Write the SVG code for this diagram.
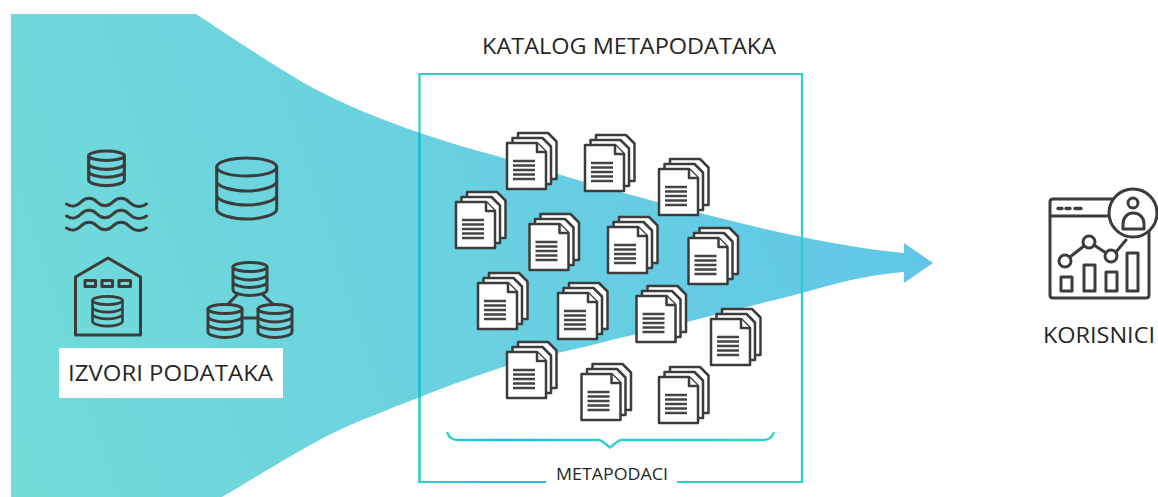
<svg xmlns="http://www.w3.org/2000/svg" xmlns:xlink="http://www.w3.org/1999/xlink" width="1158" height="497" viewBox="0 0 1158 497">
<style>
.i{fill:none;stroke:#3c3c3c;stroke-width:3;stroke-linejoin:round;stroke-linecap:round}
.p{fill:#fff;stroke:#3c3c3c;stroke-width:2.500;stroke-linejoin:round}
.l{stroke:#444;stroke-width:2.300;fill:none}
.t{font-family:"Open Sans","Noto Sans",sans-serif;font-weight:400;fill:#262626}
</style>
<defs>
<linearGradient id="fun" gradientUnits="userSpaceOnUse" x1="11" y1="497" x2="933" y2="200">
<stop offset="0" stop-color="#72dcd8"/><stop offset="1" stop-color="#60c6e8"/>
</linearGradient>
<linearGradient id="fr" gradientUnits="userSpaceOnUse" x1="419" y1="0" x2="802" y2="0">
<stop offset="0" stop-color="#2bd0cb"/><stop offset=".25" stop-color="#22b9e0"/><stop offset=".5" stop-color="#2bd0cb"/><stop offset="1" stop-color="#2bd4c8"/>
</linearGradient>
<symbol id="doc" overflow="visible">
<path class="p" d="M11,-10H41L49.500,-1.500V36H11Z"/>
<path class="p" d="M5.500,-5H35.500L44,3.500V41H5.500Z"/>
<path class="p" d="M0,0H30L39,9V46H0Z"/>
<path class="p" d="M30,0V9H39"/>
<path class="l" d="M6,18H28M6,22.500H28M6,27H28M6,31.500H28M6,36H28"/>
</symbol>
<symbol id="db" overflow="visible">
<ellipse class="i" cx="0" cy="5" rx="17" ry="4.500"/>
<path class="i" d="M-17,5V28C-17,31 -8,33.500 0,33.500C8,33.500 17,31 17,28V5M-17,12.500C-17,15.500 -8,18 0,18C8,18 17,15.500 17,12.500M-17,20C-17,23 -8,25.500 0,25.500C8,25.500 17,23 17,20"/>
</symbol>
</defs>
<rect width="1158" height="497" fill="#fff"/>
<path id="funnel-shape" fill="url(#fun)" d="M11,14H196C225,33 280,70 313,88C345,105 385,121 420,133C450,143 475,150 500,157C560,175 640,198 700,213C770,231 840,247 904,253V243L933,263L904,283V272C860,276 830,285 802,293C760,304 720,313 687,322C650,332 625,336 600,343C565,352 530,358 500,368C470,378 445,387 420,397C390,409 360,420 333,433C295,452 255,478 222,497H11Z"/>
<g id="connectors"></g>
<g id="frame">
<path d="M546,482H419.500V74H802V482H677" fill="none" stroke="#2bd0cb" stroke-width="2.200"/>
<path d="M546,482H419.500V397" fill="none" stroke="url(#fr)" stroke-width="2.200"/>
<path d="M419.500,133V397" fill="none" stroke="#17b9d8" stroke-width="2.200"/>
</g>
<g id="brace">
<path d="M447.500,433C449,438 452,440 458,440H598C603,440 606,445 610,447.500C614,445 617,440 622,440H763C769,440 772,438 773.500,433" fill="none" stroke="url(#fr)" stroke-width="2.400" stroke-linecap="round"/>
</g>
<g id="source-lake">
<use href="#db" transform="translate(106.500 150.500) scale(1.050)"/>
<path class="i" d="M66.500,204C73,208 77,206 81,202C86,197 92,197 97,202C102,207 108,207 113,202C118,197 124,197 129,202C134,207 141,208 146.500,204"/>
<path class="i" d="M66.500,216C73,220 77,218 81,214C86,209 92,209 97,214C102,219 108,219 113,214C118,209 124,209 129,214C134,219 141,220 146.500,216"/>
<path class="i" d="M66.500,228C73,232 77,230 81,226C86,221 92,221 97,226C102,231 108,231 113,226C118,221 124,221 129,226C134,231 141,232 146.500,228"/>
</g>
<g id="source-db">
<ellipse class="i" cx="246.700" cy="167" rx="30" ry="9"/>
<path class="i" d="M216.700,167V209C216.700,215 233,219 246.700,219C260,219 276.700,215 276.700,209V167M216.700,181C216.700,187 233,191 246.700,191C260,191 276.700,187 276.700,181M216.700,195C216.700,201 233,205 246.700,205C260,205 276.700,201 276.700,195"/>
</g>
<g id="source-warehouse">
<path class="i" d="M75.500,335V277L108,258L140.500,277V335Z"/>
<path class="i" d="M85,280.500H95.500V286.500H85ZM102,280.500H112.500V286.500H102ZM119,280.500H130.500V286.500H119Z"/>
<use href="#db" transform="translate(107.500 296) scale(.880 .900)"/>
</g>
<g id="source-network">
<use href="#db" x="250" y="262"/>
<use href="#db" x="225" y="304"/>
<use href="#db" x="275" y="304"/>
<path class="i" d="M237,295L228,304M263,295L273,304M242,318H258"/>
</g>
<g id="source-label">
<rect x="59" y="348" width="224" height="50" fill="#fff"/>
<text class="t" x="170.500" y="381" font-size="21.500" text-anchor="middle" textLength="205" lengthAdjust="spacingAndGlyphs">IZVORI PODATAKA</text>
</g>
<g id="catalog-label"><text class="t" x="629" y="54" font-size="21.500" text-anchor="middle" textLength="294" lengthAdjust="spacingAndGlyphs">KATALOG METAPODATAKA</text></g>
<g id="doc-1"><use href="#doc" x="507" y="143"/></g>
<g id="doc-2"><use href="#doc" x="585" y="145"/></g>
<g id="doc-3"><use href="#doc" x="659" y="169"/></g>
<g id="doc-4"><use href="#doc" x="456" y="202"/></g>
<g id="doc-5"><use href="#doc" x="529.500" y="224"/></g>
<g id="doc-6"><use href="#doc" x="608" y="227"/></g>
<g id="doc-7"><use href="#doc" x="688.500" y="238"/></g>
<g id="doc-8"><use href="#doc" x="478" y="283"/></g>
<g id="doc-9"><use href="#doc" x="558" y="293"/></g>
<g id="doc-10"><use href="#doc" x="636.500" y="296"/></g>
<g id="doc-11"><use href="#doc" x="711" y="319"/></g>
<g id="doc-12"><use href="#doc" x="507" y="352"/></g>
<g id="doc-13"><use href="#doc" x="581.500" y="374"/></g>
<g id="doc-14"><use href="#doc" x="659" y="377"/></g>
<g id="metadata-label"><text class="t" x="612" y="480" font-size="16" text-anchor="middle" textLength="112" lengthAdjust="spacingAndGlyphs">METAPODACI</text></g>
<g id="users">
<path class="i" d="M1053,199H1146Q1149,199 1149,202V295Q1149,298 1146,298H1053Q1050,298 1050,295V202Q1050,199 1053,199ZM1050,216H1112"/>
<path class="i" d="M1058,208.500H1062M1066,208.500H1070M1075,208.500H1081" style="stroke-width:3.400"/>
<path class="i" d="M1070,257L1084,246M1094,245L1106,253M1116,252L1126,240"/>
<circle class="i" cx="1065" cy="261" r="6"/>
<circle class="i" cx="1089" cy="242" r="6"/>
<circle class="i" cx="1111" cy="256" r="6"/>
<path class="i" d="M1061,277H1072V291H1061ZM1084,265H1095V291H1084ZM1106,272H1117V291H1106ZM1127,253H1138V291H1127Z"/>
<circle cx="1133" cy="213" r="24" fill="#fff" stroke="#3c3c3c" stroke-width="3"/>
<circle class="i" cx="1133" cy="203" r="5"/>
<path class="i" d="M1123,229V224C1123,217 1128,213 1133,213C1139,213 1144,217 1144,224V229Z"/>
<text class="t" x="1099" y="343" font-size="21" text-anchor="middle" textLength="112" lengthAdjust="spacingAndGlyphs">KORISNICI</text>
</g>
</svg>
